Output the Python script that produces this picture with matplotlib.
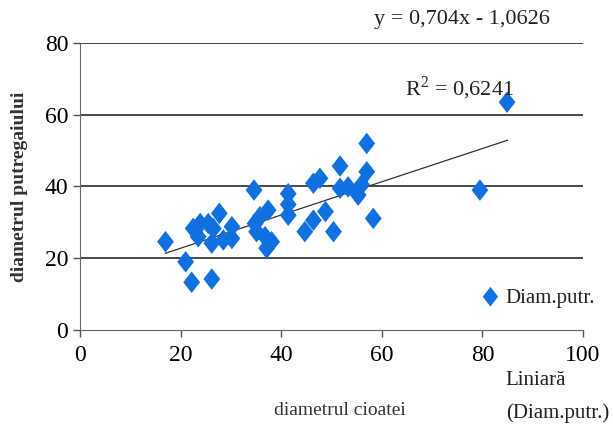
import matplotlib.pyplot as plt

# diametrul cioatei (x) vs diametrul putregaiului (y)
diam_cioata = [17.0, 21.0, 22.2, 26.2, 27.7, 22.5, 23.9, 25.5, 26.5, 23.5,
               26.2, 28.5, 30.2, 30.2, 34.6, 41.4, 41.4, 41.4, 37.4, 35.8,
               34.8, 35.1, 36.8, 38.1, 37.1, 44.7, 46.4, 46.4, 47.7, 48.8,
               50.4, 51.7, 51.7, 53.3, 55.3, 56.0, 57.0, 57.0, 58.3, 79.5,
               84.9]
diam_putr = [24.6, 19.0, 13.3, 14.2, 32.5, 28.3, 29.7, 29.7, 28.3, 26.0,
             24.2, 25.1, 28.8, 25.5, 39.0, 38.0, 35.0, 32.0, 33.4, 31.6,
             29.7, 27.4, 26.0, 24.6, 22.8, 27.4, 30.6, 40.9, 42.3, 33.0,
             27.4, 45.7, 39.5, 39.9, 37.6, 40.5, 44.1, 52.0, 31.1, 39.0,
             63.5]

# linia de tendinta (capetele)
trend_x = [17, 85]
trend_y = [21.4, 52.9]

yticks = [0, 20, 40, 60, 80]
xticks = [0, 20, 40, 60, 80, 100]

plt.rcParams['font.family'] = ['Liberation Serif', 'DejaVu Serif']
plt.rcParams['mathtext.fontset'] = 'custom'
plt.rcParams['mathtext.rm'] = 'Liberation Serif'

romb = [(0, 1), (0.78, 0), (0, -1), (-0.78, 0), (0, 1)]

fig = plt.figure(figsize=(6.13, 4.30), dpi=100)
ax = fig.add_axes([0.1305, 0.2326, 0.8206, 0.6674])

for yv in yticks[1:]:
    ax.axhline(yv, color='#3a3a3a', lw=1.3, zorder=1)

ax.plot(trend_x, trend_y, color='#333333', lw=0.9, zorder=2)
ax.scatter(diam_cioata, diam_putr, marker=romb, s=240, color='#1170e0',
           edgecolors='none', zorder=3)

ax.set_xlim(0, 100)
ax.set_ylim(0, 80)
ax.set_xticks(xticks)
ax.set_yticks(yticks)
ax.tick_params(axis='both', labelsize=17, length=5, width=1, color='#555555')
ax.tick_params(axis='x', pad=6)
for s in ['top', 'right']:
    ax.spines[s].set_visible(False)
for s in ['left', 'bottom']:
    ax.spines[s].set_color('#666666')

ax.set_ylabel('diametrul putregaiului', fontsize=14, fontweight='bold',
              color='#333333', labelpad=12)
fig.text(0.555, 0.045, 'diametrul cioatei', fontsize=14, color='#333333',
         ha='center', va='center')

fig.text(0.61, 0.955, 'y = 0,704x - 1,0626', fontsize=16, color='#222222',
         ha='left', va='center')
fig.text(0.66, 0.795, r'R$^\mathrm{2}$ = 0,6241', fontsize=16, color='#222222',
         ha='left', va='center')

# legenda
ax.scatter([0.80], [0.31], marker=romb, s=200, color='#1170e0',
           edgecolors='none', transform=fig.transFigure, clip_on=False)
fig.text(0.825, 0.305, 'Diam.putr.', fontsize=15, color='#222222',
         ha='left', va='center')
fig.text(0.825, 0.115, 'Liniară', fontsize=15, color='#222222',
         ha='left', va='center')
fig.text(0.825, 0.04, '(Diam.putr.)', fontsize=15, color='#222222',
         ha='left', va='center')

fig.savefig('out.png', dpi=100)
